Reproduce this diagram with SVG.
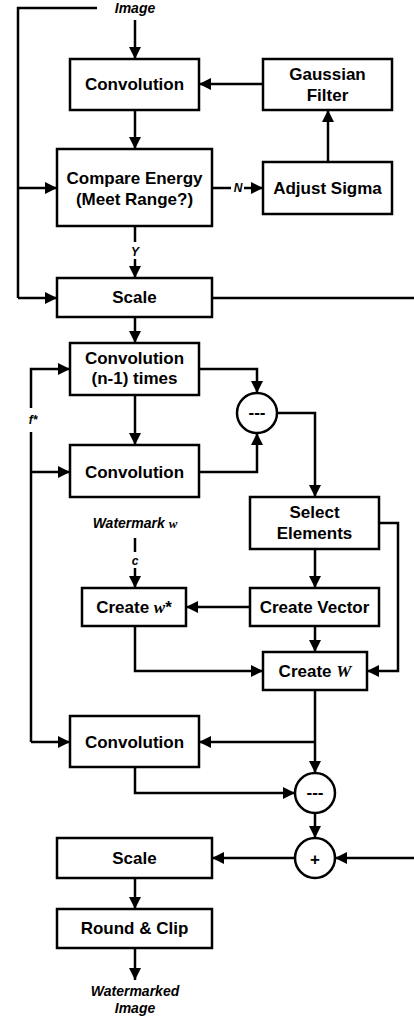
<svg xmlns="http://www.w3.org/2000/svg" width="414" height="1021" viewBox="0 0 414 1021">
<style>
.box{fill:#fff;stroke:#000;stroke-width:2.5}
.ln{fill:none;stroke:#000;stroke-width:2.5}
.arr{marker-end:url(#ah)}
.t{font-family:"Liberation Sans",Arial,sans-serif;font-weight:bold;font-size:17px;text-anchor:middle;fill:#000}
.it{font-family:"Liberation Sans",Arial,sans-serif;font-weight:bold;font-style:italic;font-size:14px;text-anchor:middle;fill:#000}
.sm{font-family:"Liberation Sans",Arial,sans-serif;font-weight:bold;font-style:italic;font-size:12px;text-anchor:middle;fill:#000}
.m{font-family:"Liberation Serif","Times New Roman",serif;font-style:italic}
</style>
<defs>
<marker id="ah" markerUnits="userSpaceOnUse" markerWidth="13" markerHeight="12" refX="12" refY="6" orient="auto">
<path d="M0,0 L12,6 L0,12 z" fill="#000"/>
</marker>
</defs>
<g id="connectors">
<path class="ln" d="M97,8 H18 V298"/>
<path class="ln arr" d="M18,188 H57"/>
<path class="ln arr" d="M18,298 H57"/>
<path class="ln arr" d="M135,20 V59"/>
<path class="ln arr" d="M263,84 H199"/>
<path class="ln arr" d="M135,110 V149"/>
<path class="ln" d="M212,188 H231"/>
<path class="ln arr" d="M244,188 H263"/>
<path class="ln arr" d="M328,162 V110"/>
<path class="ln" d="M135,226 V242"/>
<path class="ln arr" d="M135,259 V278"/>
<path class="ln" d="M212,298 H414"/>
<path class="ln arr" d="M135,317 V343"/>
<path class="ln arr" d="M31,408 V369 H70"/>
<path class="ln" d="M31,432 V742"/>
<path class="ln arr" d="M31,472 H70"/>
<path class="ln arr" d="M31,742 H70"/>
<path class="ln arr" d="M199,369 H257 V393"/>
<path class="ln arr" d="M135,395 V445"/>
<path class="ln arr" d="M199,472 H257 V433"/>
<path class="ln arr" d="M277,413 H315 V497"/>
<path class="ln arr" d="M379,523 H398 V671 H367"/>
<path class="ln" d="M135,538 V552"/>
<path class="ln arr" d="M135,568 V588"/>
<path class="ln arr" d="M315,549 V588"/>
<path class="ln arr" d="M250,607 H186"/>
<path class="ln arr" d="M315,626 V652"/>
<path class="ln arr" d="M135,626 V671 H263"/>
<path class="ln arr" d="M315,690 V773"/>
<path class="ln arr" d="M315,742 H199"/>
<path class="ln arr" d="M135,767 V793 H295"/>
<path class="ln arr" d="M315,813 V838"/>
<path class="ln arr" d="M414,858 H335"/>
<path class="ln arr" d="M295,858 H212"/>
<path class="ln arr" d="M135,878 V909"/>
<path class="ln arr" d="M135,948 V980"/>
<text class="sm" x="238" y="192">N</text>
<text class="sm" x="135" y="256">Y</text>
<text class="sm" x="33" y="424" font-size="13">f*</text>
<text class="sm" x="135" y="565">c</text>
</g>
<g id="label-image"><text class="it" x="135" y="13">Image</text></g>
<g id="conv1"><rect class="box" x="70" y="59" width="129" height="51"/><text class="t" x="134.5" y="90">Convolution</text></g>
<g id="gaussian"><rect class="box" x="263" y="59" width="129" height="51"/><text class="t" x="327.5" y="80">Gaussian</text><text class="t" x="327.5" y="101">Filter</text></g>
<g id="compare"><rect class="box" x="57" y="149" width="155" height="77"/><text class="t" x="134.5" y="184">Compare Energy</text><text class="t" x="134.5" y="205">(Meet Range?)</text></g>
<g id="adjust"><rect class="box" x="263" y="162" width="129" height="52"/><text class="t" x="327.5" y="194">Adjust Sigma</text></g>
<g id="scale1"><rect class="box" x="57" y="278" width="155" height="39"/><text class="t" x="134.5" y="303">Scale</text></g>
<g id="convn1"><rect class="box" x="70" y="343" width="129" height="52"/><text class="t" x="134.5" y="364">Convolution</text><text class="t" x="134.5" y="384">(n-1) times</text></g>
<g id="minus1"><circle class="box" cx="257" cy="413" r="20"/><text class="t" x="257" y="418" font-size="16">---</text></g>
<g id="conv2"><rect class="box" x="70" y="445" width="129" height="52"/><text class="t" x="134.5" y="478">Convolution</text></g>
<g id="select"><rect class="box" x="250" y="497" width="129" height="52"/><text class="t" x="314.5" y="518">Select</text><text class="t" x="314.5" y="539">Elements</text></g>
<g id="label-watermark"><text class="it" x="135" y="528">Watermark <tspan class="m" font-size="13">w</tspan></text></g>
<g id="createw"><rect class="box" x="82" y="588" width="104" height="38"/><text class="t" x="134" y="613">Create <tspan class="m">w</tspan>*</text></g>
<g id="vector"><rect class="box" x="250" y="588" width="129" height="38"/><text class="t" x="314.5" y="613">Create Vector</text></g>
<g id="createW"><rect class="box" x="263" y="652" width="104" height="38"/><text class="t" x="315" y="677">Create <tspan class="m">W</tspan></text></g>
<g id="conv3"><rect class="box" x="70" y="716" width="129" height="51"/><text class="t" x="134.5" y="748">Convolution</text></g>
<g id="minus2"><circle class="box" cx="315" cy="793" r="20"/><text class="t" x="315" y="798" font-size="16">---</text></g>
<g id="plus"><circle class="box" cx="315" cy="858" r="20"/><text class="t" x="315" y="865" font-size="21">+</text></g>
<g id="scale2"><rect class="box" x="57" y="838" width="155" height="40"/><text class="t" x="134.5" y="864">Scale</text></g>
<g id="round"><rect class="box" x="57" y="909" width="155" height="39"/><text class="t" x="134.5" y="934">Round &amp; Clip</text></g>
<g id="label-out"><text class="it" x="135" y="996">Watermarked</text><text class="it" x="135" y="1013">Image</text></g>
</svg>
